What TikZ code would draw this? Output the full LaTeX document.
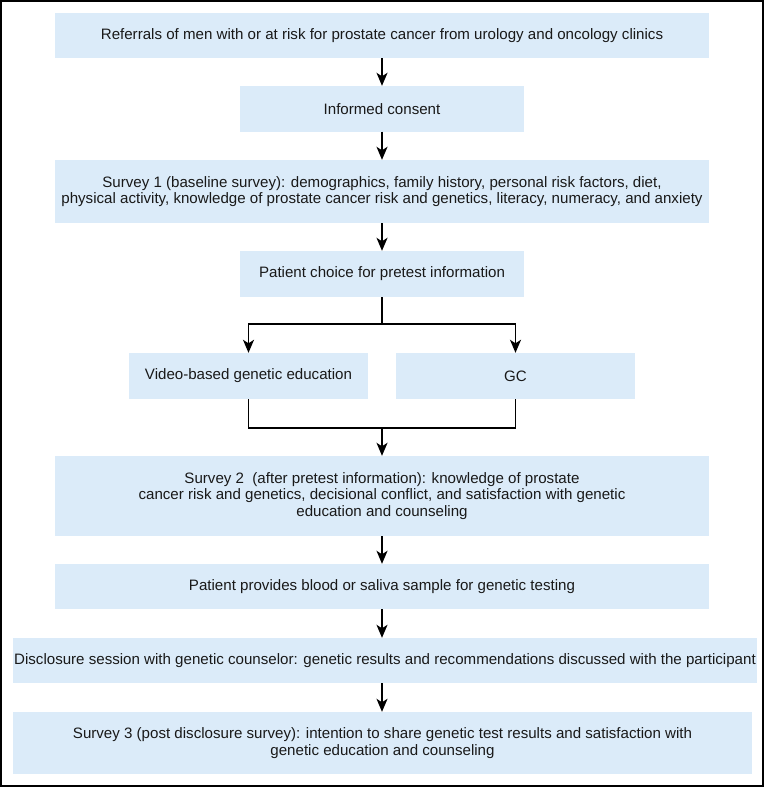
\documentclass[tikz,border=0pt]{standalone}
\usepackage{fontspec}
\setmainfont{Liberation Sans}
\usetikzlibrary{arrows.meta}
\definecolor{boxblue}{RGB}{219,235,249}
\tikzset{
  box/.style={fill=boxblue, draw=none, align=center, inner sep=0pt,
    font=\fontsize{15.1}{16.8}\selectfont, text=black!90},
  conn/.style={line width=1.5pt, draw=black},
  arr/.style={conn, -{Stealth[length=13pt,width=11pt,inset=3.5pt]}},
}
\begin{document}
\begin{tikzpicture}[x=1pt,y=-1pt]
\useasboundingbox (0,0) rectangle (764,787);
\draw[line width=1.3pt] (1,1) rectangle (763,786);
\node[box, minimum width=654, minimum height=45] (b1) at (382,35.5)
  {Referrals of men with or at risk for prostate cancer from urology and oncology clinics};
\node[box, minimum width=284, minimum height=45.5] (b2) at (382,108.75)
  {Informed consent};
\node[box, minimum width=654, minimum height=63] (b3) at (382,191.5)
  {Survey 1 (baseline survey): demographics, family history, personal risk factors, diet,\\
   physical activity, knowledge of prostate cancer risk and genetics, literacy, numeracy, and anxiety};
\node[box, minimum width=284, minimum height=46] (b4) at (382,274)
  {Patient choice for pretest information};
\node[box, minimum width=239, minimum height=46] (vid) at (248.5,376)
  {Video-based genetic education};
\node[box, minimum width=239, minimum height=46] (gc) at (515.5,376)
  {GC};
\node[box, minimum width=654, minimum height=80] (b5) at (382,496)
  {Survey 2\ \ (after pretest information): knowledge of prostate\\
   cancer risk and genetics, decisional conflict, and satisfaction with genetic\\
   education and counseling};
\node[box, minimum width=654, minimum height=45] (b6) at (382,586.5)
  {Patient provides blood or saliva sample for genetic testing};
\node[box, minimum width=744, minimum height=45] (b7) at (385,660.5)
  {Disclosure session with genetic counselor: genetic results and recommendations discussed with the participant};
\node[box, minimum width=739, minimum height=62] (b8) at (382.5,743)
  {Survey 3 (post disclosure survey): intention to share genetic test results and satisfaction with\\
   genetic education and counseling};
\coordinate (split) at (382,324);
\coordinate (merge) at (382,428);
\draw[arr] (b1.south) -- (b2.north);
\draw[arr] (b2.south) -- (b3.north);
\draw[arr] (b3.south) -- (b4.north);
\draw[conn] (b4.south) -- (split);
\draw[arr] (split) -| (vid.north);
\draw[arr] (split) -| (gc.north);
\draw[conn] (vid.south) |- (merge);
\draw[conn] (gc.south) |- (merge);
\draw[arr] (merge) -- (b5.north);
\draw[arr] (b5.south) -- (b6.north);
\draw[arr] (b6.south) -- (b6.south |- b7.north);
\draw[arr] (b7.south -| b6.south) -- (b8.north -| b6.south);
\end{tikzpicture}
\end{document}
